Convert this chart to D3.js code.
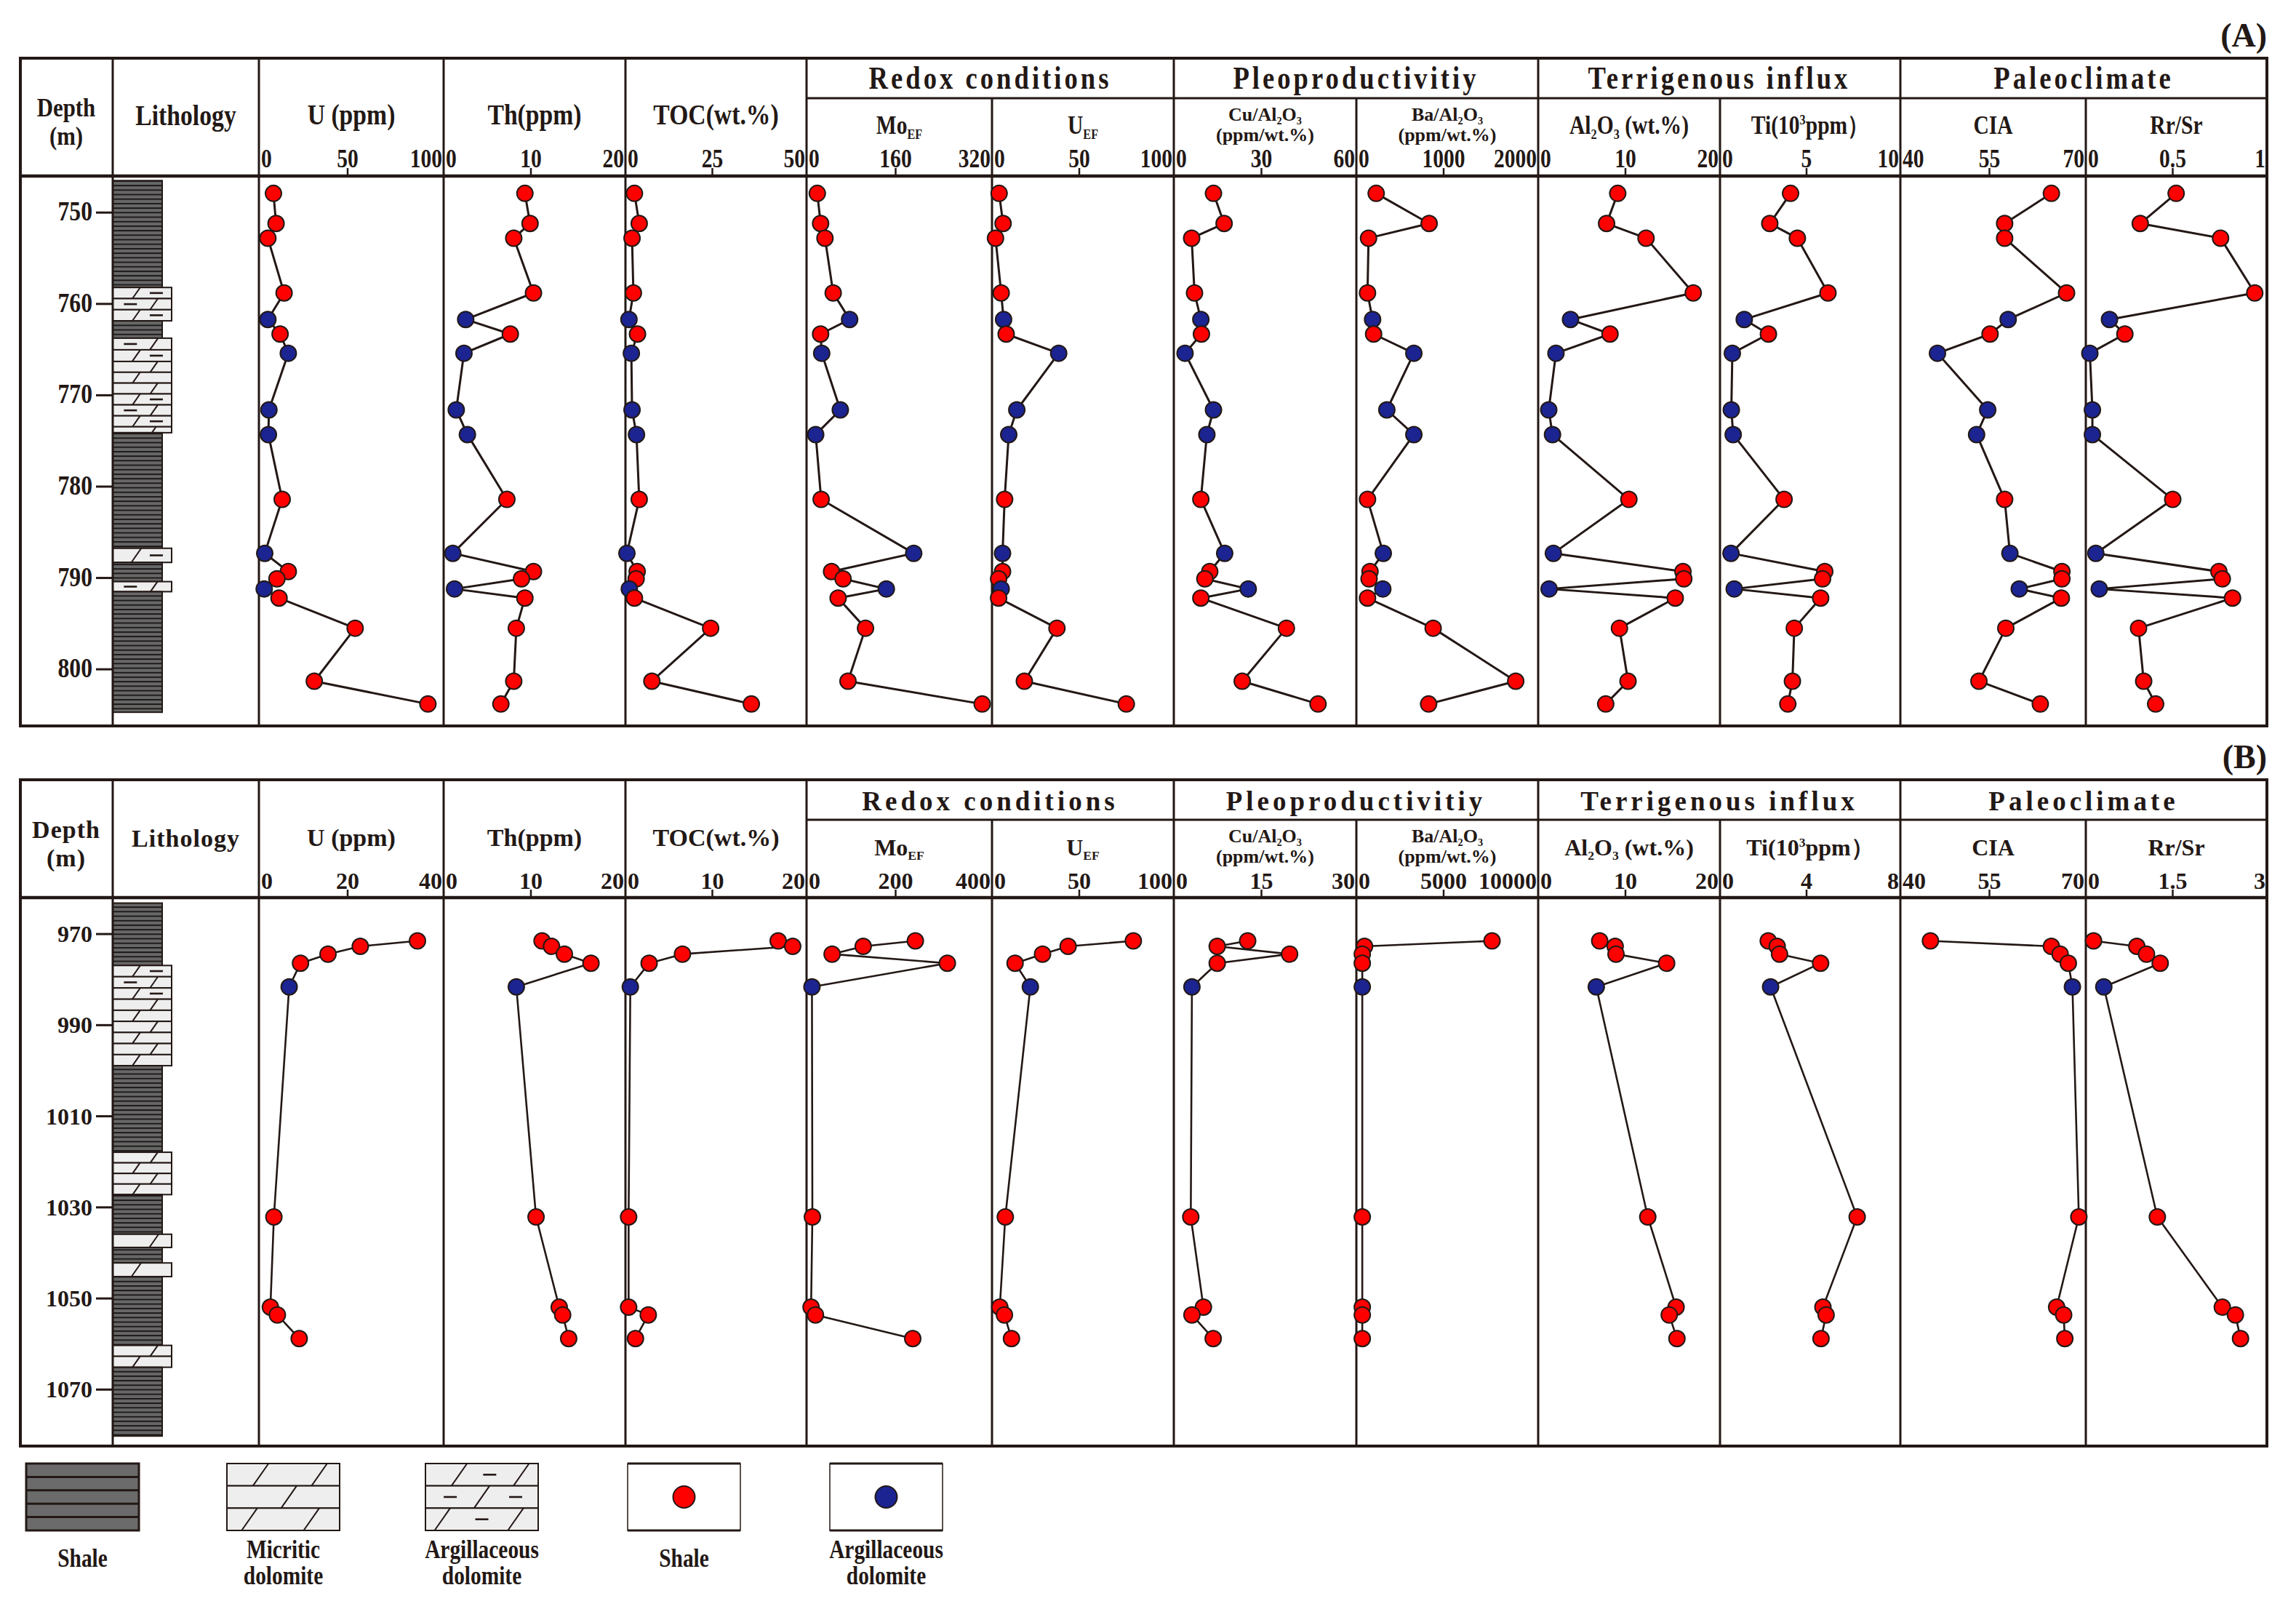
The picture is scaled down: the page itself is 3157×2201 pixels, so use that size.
<!DOCTYPE html>
<html>
<head>
<meta charset="utf-8">
<script src="https://cdn.jsdelivr.net/npm/d3@7"></script>
<style>
  body { margin: 0; background: #fff; }
  svg { display: block; }
  text { font-family: "Liberation Serif", "Times New Roman", serif; font-weight: bold; fill: #231815; }
</style>
</head>
<body>
<svg id="chart" width="3157" height="2201"></svg>
<script>
// ---- data ----
// panel A (748-804 m)
const depthA = [747.9, 751.2, 752.8, 758.8, 761.7, 763.3, 765.4, 771.6, 774.3, 781.4, 787.3, 789.3, 790.1, 791.2, 792.2, 795.5, 801.3, 803.8];
const typeA = ['s', 's', 's', 's', 'd', 's', 'd', 'd', 'd', 's', 'd', 's', 's', 'd', 's', 's', 's', 's']; // s = shale, d = argillaceous dolomite
const uA = [7.5, 9, 4.3, 13.6, 4.3, 11.3, 16, 4.9, 4.6, 12.5, 2.5, 16, 9.5, 2.2, 10.7, 54.3, 30.9, 96];
const thA = [9.3, 9.9, 8.0, 10.3, 2.4, 7.6, 2.2, 1.3, 2.6, 7.2, 0.9, 10.3, 8.9, 1.1, 9.3, 8.3, 8.0, 6.5];
const tocA = [2.2, 3.6, 1.5, 1.9, 0.6, 3.1, 1.3, 1.5, 2.8, 3.6, 0, 3.0, 2.7, 0.7, 2.2, 24.5, 7.3, 36.4];
const moA = [17, 23, 31, 46, 76, 23, 25, 59, 14, 24, 193, 43, 64, 143, 55, 105, 73, 318];
const uefA = [3.3, 5.6, 1.2, 4.5, 5.9, 7.4, 38, 13.6, 8.9, 6.5, 5.3, 5.3, 3.0, 4.5, 3.0, 37, 18, 77.4];
const cuA = [13.3, 17, 5.7, 6.7, 8.9, 9.1, 3.4, 13.3, 11, 8.9, 17.2, 12, 10.3, 25.4, 8.9, 38.7, 23.3, 49.7];
const baA = [214, 831, 125, 113, 172, 184, 653, 338, 653, 113, 297, 142, 131, 291, 113, 878, 1840, 825];
const alA = [9.1, 7.8, 12.4, 17.9, 3.6, 8.2, 1.9, 1.06, 1.5, 10.4, 1.6, 16.7, 16.8, 1.1, 15.8, 9.3, 10.3, 7.7];
const tiA = [4.06, 2.84, 4.46, 6.26, 1.34, 2.76, 0.64, 0.58, 0.69, 3.68, 0.56, 6.07, 5.94, 0.75, 5.83, 4.28, 4.17, 3.9];
const ciaA = [65.6, 57.6, 57.6, 68.2, 58.2, 55.1, 46.1, 54.7, 52.8, 57.6, 58.5, 67.4, 67.4, 60.1, 67.3, 57.8, 53.2, 63.7];
const rrA = [0.52, 0.31, 0.78, 0.98, 0.13, 0.22, 0.015, 0.03, 0.03, 0.5, 0.05, 0.77, 0.79, 0.07, 0.85, 0.3, 0.33, 0.4];

// panel B (970-1060 m)
const depthB = [971.5, 972.7, 974.4, 976.4, 981.6, 1032.1, 1051.9, 1053.6, 1058.8];
const typeB = ['s', 's', 's', 's', 'd', 's', 's', 's', 's'];
const uB = [36, 22.9, 15.5, 9.2, 6.6, 3.1, 2.3, 3.9, 8.9];
const thB = [11.3, 12.4, 13.9, 17.0, 8.3, 10.6, 13.3, 13.7, 14.4];
const tocB = [17.7, 19.4, 6.5, 2.6, 0.4, 0.2, 0.2, 2.5, 1.0];
const moB = [245, 126, 55, 318, 9, 10, 7, 17, 239];
const uefB = [81.5, 43.5, 28.6, 12.6, 21.5, 6.9, 3.7, 6.4, 10.5];
const cuB = [12.6, 7.3, 19.9, 7.3, 2.9, 2.7, 4.9, 2.9, 6.6];
const baB = [7820, 390, 260, 260, 260, 260, 260, 260, 260];
const alB = [7.0, 8.8, 8.9, 14.8, 6.6, 12.6, 15.9, 15.1, 16.0];
const tiB = [2.2, 2.62, 2.73, 4.66, 2.31, 6.38, 4.77, 4.92, 4.68];
const ciaB = [44.9, 65.6, 67.1, 68.5, 69.2, 70.3, 66.5, 67.7, 67.9];
const rrB = [0.11, 0.87, 1.04, 1.28, 0.29, 1.23, 2.37, 2.6, 2.69];

// axis ranges and tick labels (min, middle, max) for each data column
const ticksA = [[0, 50, 100], [0, 10, 20], [0, 25, 50], [0, 160, 320], [0, 50, 100], [0, 30, 60], [0, 1000, 2000], [0, 10, 20], [0, 5, 10], [40, 55, 70], [0, 0.5, 1]];
const ticksB = [[0, 20, 40], [0, 10, 20], [0, 10, 20], [0, 200, 400], [0, 50, 100], [0, 15, 30], [0, 5000, 10000], [0, 10, 20], [0, 4, 8], [40, 55, 70], [0, 1.5, 3]];

// depth ticks
const depthTicksA = [750, 760, 770, 780, 790, 800];
const depthTicksB = [970, 990, 1010, 1030, 1050, 1070];

// lithology intervals [top, base, kind]
const lithA = [[746.5, 758.2, 'shale'], [758.2, 761.85, 'argil'], [761.85, 763.75, 'shale'], [763.75, 766.3, 'argil'], [766.3, 769.85, 'micrite'],
  [769.85, 773.45, 'argil'], [773.45, 774.1, 'micrite'], [774.1, 786.75, 'shale'], [786.75, 788.3, 'argil'], [788.3, 790.4, 'shale'],
  [790.4, 791.5, 'argil'], [791.5, 804.7, 'shale']];
const lithB = [[963.2, 976.9, 'shale'], [976.9, 984.3, 'argil'], [984.3, 998.9, 'micrite'], [998.9, 1017.9, 'shale'], [1017.9, 1027.2, 'micrite'],
  [1027.2, 1035.9, 'shale'], [1035.9, 1038.8, 'micrite'], [1038.8, 1042.2, 'shale'], [1042.2, 1045.2, 'micrite'], [1045.2, 1060.3, 'shale'],
  [1060.3, 1065.1, 'micrite'], [1065.1, 1080.2, 'shale']];

// header labels: each label is a list of lines, each line a list of [text, 'sub'|'sup']
const colLabels = [
  [[['U (ppm)']]],
  [[['Th(ppm)']]],
  [[['TOC(wt.%)']]],
  [[['Mo'], ['EF', 'sub']]],
  [[['U'], ['EF', 'sub']]],
  [[['Cu/Al'], ['2', 'sub'], ['O'], ['3', 'sub']], [['(ppm/wt.%)']]],
  [[['Ba/Al'], ['2', 'sub'], ['O'], ['3', 'sub']], [['(ppm/wt.%)']]],
  [[['Al'], ['2', 'sub'], ['O'], ['3', 'sub'], [' (wt.%)']]],
  [[['Ti(10'], ['3', 'sup'], ['ppm）']]],
  [[['CIA']]],
  [[['Rr/Sr']]]
];
const groupNames = ['Redox conditions', 'Pleoproductivitiy', 'Terrigenous influx', 'Paleoclimate'];
const groupEdges = [[5, 7], [7, 9], [9, 11], [11, 13]];

// ---- layout ----
const ink = '#231815';
const colEdges = [28, 155, 356, 610, 860, 1109, 1364, 1614, 1865, 2115, 2365, 2613, 2868, 3117];
const innerEdges = [6, 8, 10, 12]; // split lines that start below the group header

const svg = d3.select('#chart');
svg.append('rect').attr('width', 3157).attr('height', 2201).attr('fill', '#fff');

// shale fill
const defs = svg.append('defs');
const pat = defs.append('pattern').attr('id', 'shale').attr('patternUnits', 'userSpaceOnUse').attr('width', 10).attr('height', 6.2);
pat.append('rect').attr('width', 10).attr('height', 6.2).attr('fill', '#676767');
pat.append('rect').attr('width', 10).attr('height', 1.9).attr('fill', '#1c1717');

// text placed with a horizontal squeeze (sx) so the tall condensed type of the figure is kept
function label(g, x, y, str, size, anchor, sx, spacing) {
  return g.append('text').attr('transform', `translate(${x},${y}) scale(${sx || 1},1)`)
    .attr('font-size', size).attr('text-anchor', anchor || 'middle')
    .attr('letter-spacing', spacing || 0).text(str);
}

function richText(g, x, y, segs, size, sx) {
  const t = g.append('text').attr('transform', `translate(${x},${y}) scale(${sx || 1},1)`)
    .attr('font-size', size).attr('text-anchor', 'middle');
  let shift = 0;
  segs.forEach(([s, kind]) => {
    const target = kind === 'sub' ? size * 0.2 : kind === 'sup' ? -size * 0.38 : 0;
    t.append('tspan').attr('dy', target - shift).attr('font-size', kind ? size * 0.55 : size).text(s);
    shift = target;
  });
  return t;
}

function doloRow(g, x, yTop, w, h, slashes, dashes) {
  g.append('rect').attr('x', x).attr('y', yTop).attr('width', w).attr('height', h)
    .attr('fill', '#eeeeee').attr('stroke', ink).attr('stroke-width', 2);
  slashes.forEach(f => g.append('line')
    .attr('x1', x + f * w - h * 0.35).attr('y1', yTop + h)
    .attr('x2', x + f * w + h * 0.35).attr('y2', yTop)
    .attr('stroke', ink).attr('stroke-width', 2));
  dashes.forEach(f => g.append('line')
    .attr('x1', x + f * w - 9).attr('x2', x + f * w + 9)
    .attr('y1', yTop + h / 2).attr('y2', yTop + h / 2)
    .attr('stroke', ink).attr('stroke-width', 2.6));
}

function drawLith(g, y, intervals) {
  const x0 = colEdges[1];
  let row = 0;
  intervals.forEach(([d0, d1, kind]) => {
    const y0 = y(d0), y1 = y(d1);
    if (kind === 'shale') {
      g.append('rect').attr('x', x0).attr('y', y0).attr('width', 68).attr('height', y1 - y0)
        .attr('fill', 'url(#shale)').attr('stroke', ink).attr('stroke-width', 2);
      return;
    }
    const n = Math.max(1, Math.round((y1 - y0) / 15));
    const h = (y1 - y0) / n;
    for (let i = 0; i < n; i++, row++) {
      const even = row % 2 === 0;
      doloRow(g, x0, y0 + i * h, 81, h, [even ? 0.4 : 0.7], kind === 'argil' ? [even ? 0.74 : 0.3] : []);
    }
  });
}

function drawPanel(opt) {
  const { top, bottom, depthDomain, depthTicks, lith, depths, types, series, ticks, tag, sx, fs, spacing, lw } = opt;
  const g = svg.append('g');
  const groupY = top + 55, head = top + 162;
  const y = d3.scaleLinear().domain(depthDomain).range([head, bottom]);

  // lithology column
  drawLith(g, y, lith);

  // depth ticks
  depthTicks.forEach(d => {
    g.append('line').attr('x1', 132).attr('x2', colEdges[1]).attr('y1', y(d)).attr('y2', y(d)).attr('stroke', ink).attr('stroke-width', 3);
    label(g, 127, y(d) + 11, d, 32 * fs, 'end', sx);
  });

  // frame
  const frame = g.append('g').attr('stroke', ink).attr('fill', 'none');
  frame.append('rect').attr('x', colEdges[0]).attr('y', top).attr('width', colEdges[13] - colEdges[0]).attr('height', bottom - top).attr('stroke-width', 4);
  frame.append('line').attr('x1', colEdges[0]).attr('x2', colEdges[13]).attr('y1', head).attr('y2', head).attr('stroke-width', 4.5);
  frame.append('line').attr('x1', colEdges[5]).attr('x2', colEdges[13]).attr('y1', groupY).attr('y2', groupY).attr('stroke-width', 3);
  d3.range(1, 13).forEach(i => {
    frame.append('line').attr('x1', colEdges[i]).attr('x2', colEdges[i])
      .attr('y1', innerEdges.includes(i) ? groupY : top).attr('y2', bottom).attr('stroke-width', 3);
  });

  // header text
  const dfs = 34 * Math.min(fs, 1.08);
  label(g, 91, top + 80, 'Depth', dfs, 'middle', sx, spacing);
  label(g, 91, top + 119, '(m)', dfs, 'middle', sx, spacing);
  label(g, (colEdges[1] + colEdges[2]) / 2, top + 92, 'Lithology', 34 * fs, 'middle', sx, spacing);
  groupNames.forEach((name, i) => {
    const [a, b] = groupEdges[i];
    label(g, (colEdges[a] + colEdges[b]) / 2, top + 42, name, 37 * fs, 'middle', sx, 4 / sx + spacing);
  });

  series.forEach((vals, k) => {
    const x0 = colEdges[k + 2], x1 = colEdges[k + 3];
    const tv = ticks[k];
    const x = d3.scaleLinear().domain([tv[0], tv[2]]).range([x0 + 2, x1 - 12]);

    // column label
    const lines = colLabels[k];
    const cx = (x0 + x1) / 2;
    if (k < 3) {
      richText(g, cx, top + 91, lines[0], 34 * fs, sx);
    } else if (lines.length === 2) {
      richText(g, cx, top + 86, lines[0], 26, 1);
      richText(g, cx, top + 114, lines[1], 26, 1);
    } else {
      richText(g, cx, top + 104, lines[0], 32 * Math.min(fs, 1.1), sx);
    }

    // scale labels and middle tick
    const tfs = 32 * Math.min(fs, 1.1);
    label(g, x0 + 3, top + 150, tv[0], tfs, 'start', sx);
    label(g, x(tv[1]), top + 150, tv[1], tfs, 'middle', sx);
    label(g, x1 - 2, top + 150, tv[2], tfs, 'end', sx);
    g.append('line').attr('x1', x(tv[1])).attr('x2', x(tv[1])).attr('y1', head - 11).attr('y2', head).attr('stroke', ink).attr('stroke-width', 2.5);

    // profile line and samples
    const pts = depths.map((d, i) => ({ px: x(vals[i]), py: y(d), t: types[i] }));
    g.append('path').attr('d', d3.line().x(p => p.px).y(p => p.py)(pts))
      .attr('fill', 'none').attr('stroke', ink).attr('stroke-width', lw).attr('stroke-linejoin', 'round');
    g.selectAll(null).data(pts).enter().append('circle')
      .attr('cx', p => p.px).attr('cy', p => p.py).attr('r', 11)
      .attr('fill', p => p.t === 'd' ? '#1b2490' : '#ff0000')
      .attr('stroke', ink).attr('stroke-width', 2);
  });

  label(g, colEdges[13], top - 16, tag, 46, 'end', 1);
}

drawPanel({ top: 80, bottom: 998, depthDomain: [746, 806.2], depthTicks: depthTicksA, lith: lithA, depths: depthA, types: typeA,
  series: [uA, thA, tocA, moA, uefA, cuA, baA, alA, tiA, ciaA, rrA], ticks: ticksA, tag: '(A)', sx: 0.84, fs: 1.18, spacing: 0, lw: 3 });
drawPanel({ top: 1072, bottom: 1988, depthDomain: [962, 1082.4], depthTicks: depthTicksB, lith: lithB, depths: depthB, types: typeB,
  series: [uB, thB, tocB, moB, uefB, cuB, baB, alB, tiB, ciaB, rrB], ticks: ticksB, tag: '(B)', sx: 1, fs: 1, spacing: 1, lw: 2.6 });

// ---- legend ----
const legend = svg.append('g');
const legTop = 2012, legW = 155, legH = 92;
const legX = [36, 312, 585, 863, 1141];
const legLabels = [['Shale'], ['Micritic', 'dolomite'], ['Argillaceous', 'dolomite'], ['Shale'], ['Argillaceous', 'dolomite']];

// shale swatch
legend.append('rect').attr('x', legX[0]).attr('y', legTop).attr('width', legW).attr('height', legH).attr('fill', '#6b6b6b').attr('stroke', ink).attr('stroke-width', 3);
d3.range(1, 5).forEach(i => legend.append('line').attr('x1', legX[0]).attr('x2', legX[0] + legW)
  .attr('y1', legTop + i * legH / 5).attr('y2', legTop + i * legH / 5).attr('stroke', ink).attr('stroke-width', 3));

// dolomite swatches
const rowH = legH / 3;
doloRow(legend, legX[1], legTop, legW, rowH, [0.3, 0.82], []);
doloRow(legend, legX[1], legTop + rowH, legW, rowH, [0.55], []);
doloRow(legend, legX[1], legTop + 2 * rowH, legW, rowH, [0.2, 0.75], []);
doloRow(legend, legX[2], legTop, legW, rowH, [0.3, 0.85], [0.57]);
doloRow(legend, legX[2], legTop + rowH, legW, rowH, [0.5], [0.22, 0.8]);
doloRow(legend, legX[2], legTop + 2 * rowH, legW, rowH, [0.15, 0.8], [0.5]);

// sample symbols
[['#ff0000', legX[3]], ['#1b2490', legX[4]]].forEach(([c, x]) => {
  legend.append('rect').attr('x', x).attr('y', legTop).attr('width', legW).attr('height', legH).attr('fill', '#fff').attr('stroke', ink).attr('stroke-width', 1.5);
  legend.append('line').attr('x1', x).attr('x2', x + legW).attr('y1', legTop).attr('y2', legTop).attr('stroke', ink).attr('stroke-width', 3);
  legend.append('line').attr('x1', x).attr('x2', x + legW).attr('y1', legTop + legH).attr('y2', legTop + legH).attr('stroke', ink).attr('stroke-width', 3);
  legend.append('circle').attr('cx', x + legW / 2).attr('cy', legTop + legH / 2).attr('r', 15).attr('fill', c).attr('stroke', ink).attr('stroke-width', 2);
});

legLabels.forEach((lines, i) => {
  const cx = legX[i] + legW / 2;
  if (lines.length === 1) {
    label(legend, cx, 2154, lines[0], 35, 'middle', 0.84);
  } else {
    lines.forEach((s, j) => label(legend, cx, 2142 + j * 36, s, 35, 'middle', 0.84));
  }
});
</script>
</body>
</html>
